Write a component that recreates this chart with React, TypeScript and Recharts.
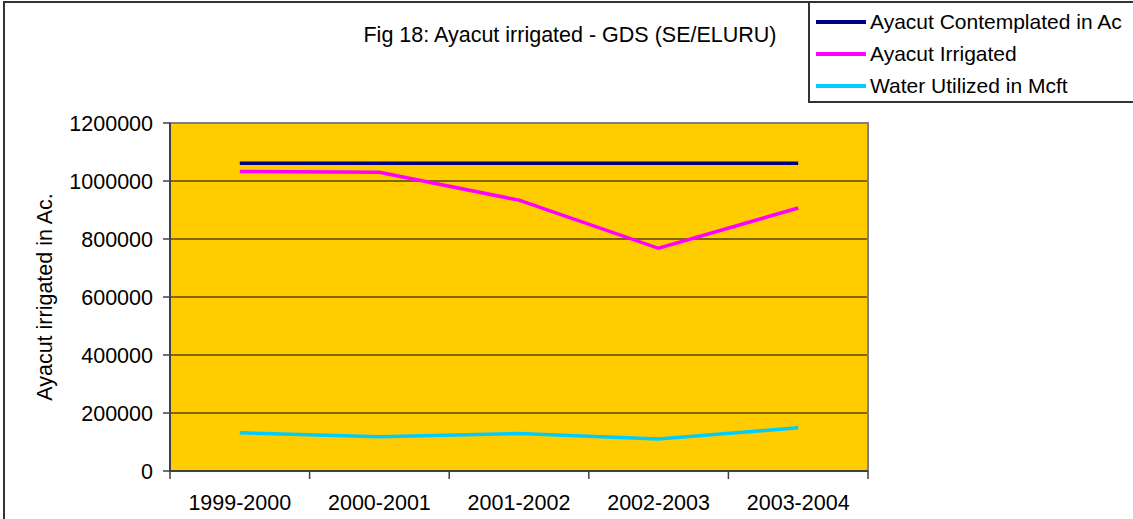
import { LineChart, Line, XAxis, YAxis, CartesianGrid, ReferenceArea } from "recharts";

const years = ["1999-2000", "2000-2001", "2001-2002", "2002-2003", "2003-2004"];
const contemplated = [1061000, 1061000, 1061000, 1061000, 1061000];
const irrigated = [1033000, 1030000, 934000, 768000, 907000];
const water = [132000, 118000, 129000, 110000, 149000];
const yTicks = [0, 200000, 400000, 600000, 800000, 1000000, 1200000];

const series = [
  { key: "contemplated", name: "Ayacut Contemplated in Ac", color: "#000080" },
  { key: "irrigated", name: "Ayacut Irrigated", color: "#FF00FF" },
  { key: "water", name: "Water Utilized in Mcft", color: "#00CCFF" },
];

const data = years.map((year, i) => ({
  year,
  contemplated: contemplated[i],
  irrigated: irrigated[i],
  water: water[i],
}));

const FONT = '"Liberation Sans", Arial, sans-serif';
const AXIS = "#404040";

function YearTick(props: any) {
  const { x, y, payload, index, visibleTicksCount, width } = props;
  const half = payload?.offset || width / (2 * visibleTicksCount);
  const last = index === visibleTicksCount - 1;
  return (
    <g>
      <line x1={x - half} y1={y} x2={x - half} y2={y + 8} stroke={AXIS} strokeWidth={1.5} />
      {last && <line x1={x + half} y1={y} x2={x + half} y2={y + 8} stroke={AXIS} strokeWidth={1.5} />}
      <text x={x} y={y + 39} textAnchor="middle" fontSize={21.5} fill="#000" fontFamily={FONT}>
        {payload.value}
      </text>
    </g>
  );
}

function YLabel(props: any) {
  const { viewBox } = props;
  const cx = viewBox.x + 35;
  const cy = viewBox.y + viewBox.height / 2;
  return (
    <text
      x={cx}
      y={cy}
      transform={`rotate(-90 ${cx} ${cy})`}
      textAnchor="middle"
      dominantBaseline="central"
      fontSize={21.5}
      fill="#000"
      fontFamily={FONT}
    >
      Ayacut irrigated in Ac.
    </text>
  );
}

export default function App() {
  return (
    <div
      style={{
        position: "absolute",
        left: 0,
        top: 0,
        width: 1133,
        height: 519,
        overflow: "hidden",
        background: "#fff",
        fontFamily: FONT,
      }}
    >
      <div
        style={{
          position: "absolute",
          left: 3,
          top: 1,
          width: 1300,
          height: 700,
          border: "2px solid #333",
        }}
      />
      <div
        style={{
          position: "absolute",
          left: 360,
          top: 22,
          width: 420,
          textAlign: "center",
          fontSize: 21.5,
          lineHeight: "26px",
          color: "#000",
        }}
      >
        Fig 18: Ayacut irrigated - GDS (SE/ELURU)
      </div>
      <div
        style={{
          position: "absolute",
          left: 808,
          top: 1,
          width: 400,
          height: 98,
          border: "2px solid #333",
          background: "#fff",
        }}
      >
        {series.map((s) => (
          <div
            key={s.key}
            style={{ display: "flex", alignItems: "center", height: 32, marginTop: s.key === "contemplated" ? 3 : 0 }}
          >
            <div style={{ width: 50, height: 4, background: s.color, marginLeft: 6, marginRight: 4 }} />
            <span style={{ fontSize: 21, color: "#000", whiteSpace: "nowrap" }}>{s.name}</span>
          </div>
        ))}
      </div>
      <LineChart
        width={1133}
        height={519}
        data={data}
        margin={{ top: 123, right: 265, bottom: 0, left: 10 }}
        style={{ position: "absolute", left: 0, top: 0 }}
      >
        <CartesianGrid horizontal vertical={false} stroke="#000" strokeWidth={1} fill="#FFCC00" fillOpacity={1} />
        <ReferenceArea y1={0} y2={1200000} fill="none" stroke="#808080" strokeWidth={2} />
        <XAxis
          dataKey="year"
          scale="band"
          height={48}
          tickSize={0}
          tickMargin={0}
          tickLine={false}
          axisLine={{ stroke: AXIS, strokeWidth: 2 }}
          interval={0}
          tick={<YearTick />}
        />
        <YAxis
          width={160}
          domain={[0, 1200000]}
          ticks={yTicks}
          tickSize={7}
          tickMargin={10}
          axisLine={{ stroke: AXIS, strokeWidth: 2 }}
          tickLine={{ stroke: AXIS, strokeWidth: 1.5 }}
          tick={{ fontSize: 21.5, fill: "#000", fontFamily: FONT }}
          label={<YLabel />}
        />
        {series.map((s) => (
          <Line
            key={s.key}
            dataKey={s.key}
            name={s.name}
            stroke={s.color}
            strokeWidth={3.5}
            dot={false}
            isAnimationActive={false}
          />
        ))}
      </LineChart>
    </div>
  );
}
